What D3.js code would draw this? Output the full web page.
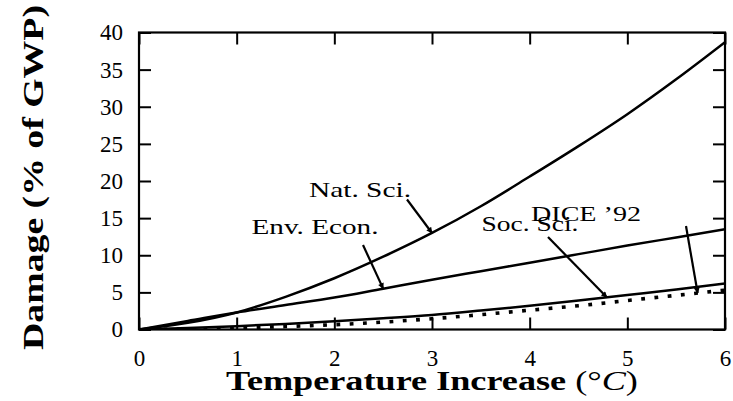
<!DOCTYPE html>
<html>
<head>
<meta charset="utf-8">
<script src="https://cdn.jsdelivr.net/npm/d3@7"></script>
<style>
  html, body { margin: 0; padding: 0; background: #fff; }
  svg { display: block; }
</style>
</head>
<body>
<svg id="chart" width="733" height="401" font-family="Liberation Serif"></svg>
<script>
// Temperature increase (°C) and damage estimates (% of gross world product)
const temps   = [0, 0.5, 1, 1.5, 2, 2.5, 3, 3.5, 4, 4.5, 5, 5.5, 6];
const natSci  = [0, 0.9, 2.3, 4.4, 6.9, 9.8, 13.0, 16.6, 20.6, 24.7, 29.0, 33.7, 38.7];
const envEcon = [0, 1.15, 2.3, 3.3, 4.3, 5.5, 6.7, 7.85, 9.0, 10.15, 11.3, 12.4, 13.5];
const socSci  = [0, 0.2, 0.45, 0.75, 1.1, 1.5, 1.95, 2.55, 3.2, 3.9, 4.65, 5.4, 6.2];
const dice92  = [0, 0.06, 0.2, 0.4, 0.65, 1.0, 1.45, 2.0, 2.6, 3.2, 3.9, 4.6, 5.3];

const xTicks = [0, 1, 2, 3, 4, 5, 6];
const yTicks = [0, 5, 10, 15, 20, 25, 30, 35, 40];

const seriesNames = ["Nat. Sci.", "Env. Econ.", "Soc. Sci.", "DICE ’92"];
const seriesValues = [natSci, envEcon, socSci, dice92];
// temperature at which each label's arrow touches its curve
const arrowAt = [3.0, 2.5, 4.79, 5.72];

const FONT = "Liberation Serif";

const svg = d3.select("#chart");
const L = 139, R = 725, T = 32.5, B = 329.5;

const x = d3.scaleLinear().domain([0, 6]).range([L, R]);
const y = d3.scaleLinear().domain([0, 40]).range([B, T]);

// plot frame
svg.append("rect")
  .attr("x", L).attr("y", T).attr("width", R - L).attr("height", B - T)
  .attr("fill", "none").attr("stroke", "#000").attr("stroke-width", 2.2);

const tickLen = 12;
const styleAxis = g => {
  g.attr("font-family", FONT).attr("font-size", 23);
  g.select(".domain").remove();
  g.selectAll(".tick line").attr("stroke", "#000").attr("stroke-width", 2);
  g.selectAll(".tick text")
    .attr("font-family", FONT).style("font-family", FONT)
    .attr("font-size", 23).attr("fill", "#000");
};

svg.append("g").attr("transform", `translate(0,${B})`)
  .call(d3.axisBottom(x).tickValues(xTicks).tickFormat(d3.format("d")).tickSize(-tickLen).tickSizeOuter(0).tickPadding(20.5))
  .call(styleAxis);
svg.append("g").attr("transform", `translate(0,${T})`)
  .call(d3.axisTop(x).tickValues(xTicks).tickFormat("").tickSize(-tickLen).tickSizeOuter(0))
  .call(styleAxis);
svg.append("g").attr("transform", `translate(${L},0)`)
  .call(d3.axisLeft(y).tickValues(yTicks).tickFormat(d3.format("d")).tickSize(-tickLen).tickSizeOuter(0).tickPadding(16))
  .call(styleAxis);
svg.append("g").attr("transform", `translate(${R},0)`)
  .call(d3.axisRight(y).tickValues(yTicks).tickFormat("").tickSize(-tickLen).tickSizeOuter(0))
  .call(styleAxis);

// curves
const line = d3.line().x((d, i) => x(temps[i])).y(d => y(d)).curve(d3.curveMonotoneX);
svg.append("clipPath").attr("id", "plotClip")
  .append("rect").attr("x", L).attr("y", T - 2).attr("width", R - L).attr("height", B - T + 2);

const curves = svg.append("g").attr("clip-path", "url(#plotClip)");
[natSci, envEcon, socSci].forEach(vals => {
  curves.append("path").datum(vals).attr("d", line)
    .attr("fill", "none").attr("stroke", "#000").attr("stroke-width", 2.5)
    .attr("stroke-linejoin", "round");
});
curves.append("path").datum(dice92).attr("d", line)
  .attr("fill", "none").attr("stroke", "#000").attr("stroke-width", 3.6)
  .attr("stroke-dasharray", "3.8 9.5").attr("stroke-dashoffset", 2);

// arrow heads
svg.append("defs").append("marker")
  .attr("id", "head").attr("viewBox", "0 0 10 10")
  .attr("refX", 9).attr("refY", 5)
  .attr("markerWidth", 9).attr("markerHeight", 6)
  .attr("markerUnits", "userSpaceOnUse")
  .attr("orient", "auto")
  .append("path").attr("d", "M0,0 L10,5 L0,10 Z").attr("fill", "#000");

// label placement: left edge, baseline, width, arrow start
const labelLayout = [
  { lx: 309,   by: 197, w: 102, sx: 407, sy: 199.5 },
  { lx: 251.5, by: 234, w: 127, sx: 363, sy: 245 },
  { lx: 481.5, by: 231, w: 97,  sx: 548, sy: 237 },
  { lx: 531,   by: 221, w: 110, sx: 686, sy: 226 }
];

const interp = (vals, t) => {
  const i = Math.min(temps.length - 2, Math.max(0, d3.bisectRight(temps, t) - 1));
  const f = (t - temps[i]) / (temps[i + 1] - temps[i]);
  return vals[i] + f * (vals[i + 1] - vals[i]);
};

seriesNames.forEach((name, k) => {
  const lay = labelLayout[k];
  svg.append("text")
    .attr("x", lay.lx).attr("y", lay.by)
    .attr("font-family", FONT).style("font-family", FONT)
    .attr("font-size", 22).attr("fill", "#000")
    .attr("textLength", lay.w).attr("lengthAdjust", "spacingAndGlyphs")
    .text(name);

  const tx = x(arrowAt[k]);
  const ty = y(interp(seriesValues[k], arrowAt[k]));
  svg.append("line")
    .attr("x1", lay.sx).attr("y1", lay.sy).attr("x2", tx).attr("y2", ty)
    .attr("stroke", "#000").attr("stroke-width", 2.2)
    .attr("marker-end", "url(#head)");
});

// axis titles, stretched to their set widths
function fitted(parent, tf, width) {
  const g = parent.append("g");
  const t = g.append("text").attr("text-anchor", "middle")
    .attr("font-family", FONT).style("font-family", FONT).attr("fill", "#000");
  return { g, t, fit() {
    const bb = t.node().getBBox();
    g.attr("transform", tf + ` scale(${width / bb.width},1)`);
  }};
}

const xt = fitted(svg, `translate(${x(3)},390)`, 412);
xt.t.attr("font-size", 27);
xt.t.append("tspan").attr("font-weight", "bold").text("Temperature Increase ");
xt.t.append("tspan").text("(°");
xt.t.append("tspan").attr("font-style", "italic").text("C");
xt.t.append("tspan").text(")");
xt.fit();

const yt = fitted(svg, `translate(43,177.5) rotate(-90)`, 345);
yt.t.attr("font-size", 29).attr("font-weight", "bold").text("Damage (% of GWP)");
yt.fit();
</script>
</body>
</html>
